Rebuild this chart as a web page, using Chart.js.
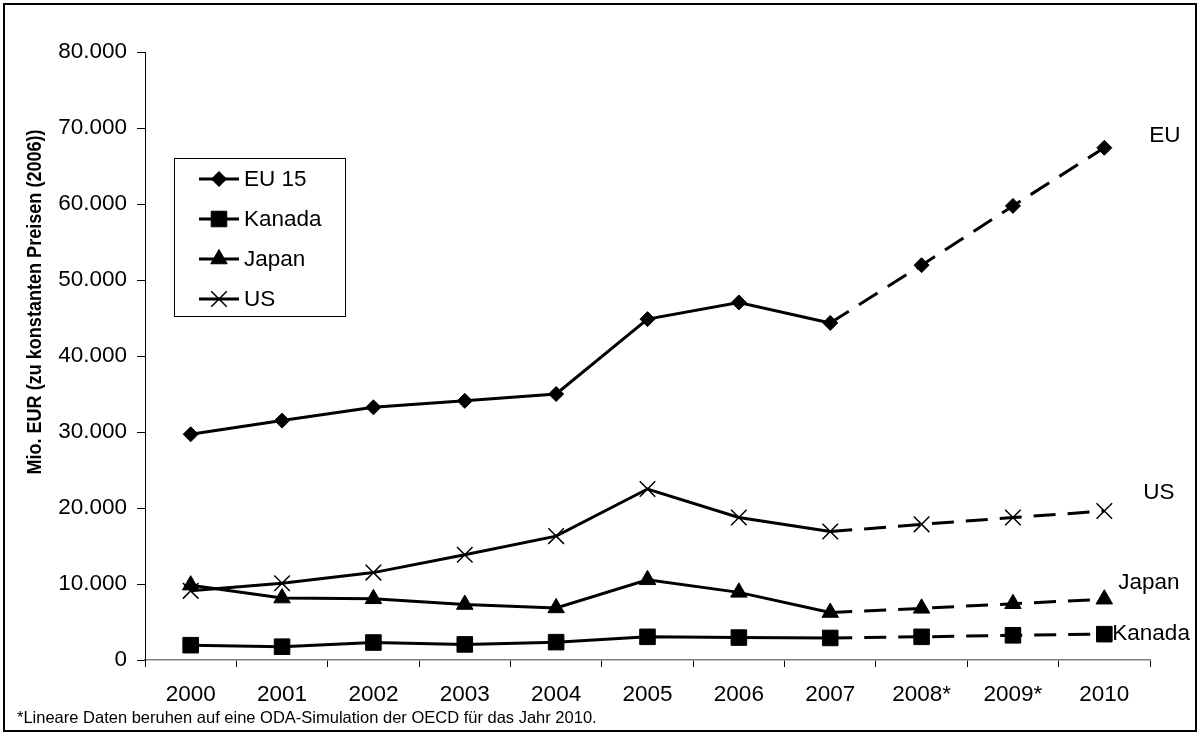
<!DOCTYPE html>
<html>
<head>
<meta charset="utf-8">
<script src="https://cdn.jsdelivr.net/npm/chart.js@4/dist/chart.umd.min.js"></script>
<style>
  html, body { margin: 0; padding: 0; background: #fff; }
  #wrap { width: 1200px; height: 735px; }
</style>
</head>
<body>
<div id="wrap"><canvas id="c" width="1200" height="735"></canvas></div>
<script>
// ODA volumes, Mio. EUR at constant 2006 prices
const years  = ['2000', '2001', '2002', '2003', '2004', '2005', '2006', '2007', '2008*', '2009*', '2010'];
const eu15   = [29700, 31500, 33250, 34100, 35000, 44850, 47050, 44350, 51950, 59750, 67400];
const kanada = [1950, 1750, 2300, 2050, 2350, 3050, 2950, 2900, 3050, 3250, 3400];
const japan  = [9850, 8150, 8050, 7300, 6850, 10550, 8900, 6250, 6800, 7400, 8000];
const us     = [9100, 10100, 11500, 13850, 16300, 22500, 18750, 16900, 17850, 18750, 19600];

const seriesNames = ['EU 15', 'Kanada', 'Japan', 'US'];
const endLabels   = ['EU', 'Kanada', 'Japan', 'US'];
const yMin = 0, yMax = 80000, yStep = 10000;
const axisTitle = 'Mio. EUR (zu konstanten Preisen (2006))';
const footnote = '*Lineare Daten beruhen auf eine ODA-Simulation der OECD f\u00fcr das Jahr 2010.';
const lastMeasured = 7; // index of 2007; later years are projections

const FONT = '"Liberation Sans", Arial, sans-serif';
const TEXT_SIZE = 22.5;

// marker look per series
const markers = [
  { pointStyle: 'rectRot',  radius: 7.5, borderWidth: 1 },
  { pointStyle: 'rect',     radius: 11,  borderWidth: 1 },
  { pointStyle: 'triangle', radius: 9.5, borderWidth: 1 },
  { pointStyle: 'crossRot', radius: 11,  borderWidth: 1.5 }
];
// label placement relative to the last point, in px
const endOffsets = [[45, -12], [8, 0], [14, -16], [39, -18]];

const fmt = v => String(v).replace(/\B(?=(\d{3})+(?!\d))/g, '.');

function makeSet(i, data) {
  const m = markers[i];
  return {
    label: seriesNames[i],
    data: data,
    borderColor: '#000',
    backgroundColor: '#000',
    borderWidth: 3,
    pointStyle: m.pointStyle,
    pointRadius: m.radius,
    pointHoverRadius: m.radius,
    pointBorderWidth: m.borderWidth,
    pointBackgroundColor: '#000',
    pointBorderColor: '#000',
    tension: 0,
    fill: false,
    segment: {
      borderDash: ctx => ctx.p0DataIndex >= lastMeasured ? [22, 12] : undefined
    }
  };
}

function drawMarker(ctx, m, x, y) {
  ctx.save();
  ctx.fillStyle = '#000';
  ctx.strokeStyle = '#000';
  ctx.lineWidth = m.borderWidth;
  ctx.setLineDash([]);
  Chart.helpers.drawPoint(ctx, { pointStyle: m.pointStyle, radius: m.radius, rotation: 0, borderWidth: m.borderWidth }, x, y);
  ctx.restore();
}

const decorations = {
  id: 'decorations',
  beforeDraw(chart) {
    const ctx = chart.ctx;
    ctx.save();
    ctx.fillStyle = '#fff';
    ctx.fillRect(0, 0, chart.width, chart.height);
    ctx.restore();
  },
  afterDraw(chart) {
    const ctx = chart.ctx;
    ctx.save();

    // y axis title (slightly condensed along its length)
    ctx.save();
    ctx.translate(35, 302);
    ctx.rotate(-Math.PI / 2);
    ctx.scale(0.86, 1);
    ctx.font = 'bold 21px ' + FONT;
    ctx.fillStyle = '#000';
    ctx.textAlign = 'center';
    ctx.textBaseline = 'middle';
    ctx.fillText(axisTitle, 0, 0);
    ctx.restore();

    // legend box
    ctx.lineWidth = 1;
    ctx.strokeStyle = '#000';
    ctx.strokeRect(174.5, 158.5, 171, 158);
    ctx.font = TEXT_SIZE + 'px ' + FONT;
    ctx.fillStyle = '#000';
    ctx.textAlign = 'left';
    ctx.textBaseline = 'middle';
    chart.data.datasets.forEach((ds, i) => {
      const y = 179 + i * 40;
      ctx.save();
      ctx.lineWidth = 3;
      ctx.beginPath();
      ctx.moveTo(199, y);
      ctx.lineTo(239, y);
      ctx.stroke();
      ctx.restore();
      drawMarker(ctx, markers[i], 219, y);
      ctx.fillStyle = '#000';
      ctx.fillText(ds.label, 244, y + 1);
    });

    // series names at the end of each line
    chart.data.datasets.forEach((ds, i) => {
      const meta = chart.getDatasetMeta(i);
      const pt = meta.data[meta.data.length - 1];
      ctx.fillText(endLabels[i], pt.x + endOffsets[i][0], pt.y + endOffsets[i][1]);
    });

    // footnote
    ctx.font = '16.5px ' + FONT;
    ctx.fillText(footnote, 17, 718);

    // outer frame
    ctx.lineWidth = 2;
    ctx.strokeRect(4, 4, 1192, 727);
    ctx.restore();
  }
};

new Chart(document.getElementById('c'), {
  type: 'line',
  data: {
    labels: years,
    datasets: [makeSet(0, eu15), makeSet(1, kanada), makeSet(2, japan), makeSet(3, us)]
  },
  options: {
    responsive: false,
    animation: false,
    devicePixelRatio: 1,
    layout: { padding: { left: 0, right: 50, top: 52, bottom: 0 } },
    plugins: { legend: { display: false }, tooltip: { enabled: false }, title: { display: false } },
    scales: {
      x: {
        type: 'category',
        offset: true,
        afterFit: s => { s.height = 75; },
        grid: { display: true, drawOnChartArea: false, drawTicks: true, tickLength: 7, offset: true, color: '#000', lineWidth: 1 },
        border: { display: true, color: '#808080', width: 1.5 },
        ticks: { color: '#000', font: { family: FONT, size: TEXT_SIZE }, padding: 14, maxRotation: 0, autoSkip: false }
      },
      y: {
        min: yMin,
        max: yMax,
        afterFit: s => { s.width = 145; },
        grid: { display: true, drawOnChartArea: false, drawTicks: true, tickLength: 8, color: '#000', lineWidth: 1 },
        border: { display: true, color: '#000', width: 1 },
        ticks: { stepSize: yStep, color: '#000', font: { family: FONT, size: TEXT_SIZE }, padding: 10, callback: v => fmt(v) }
      }
    }
  },
  plugins: [decorations]
});
</script>
</body>
</html>
